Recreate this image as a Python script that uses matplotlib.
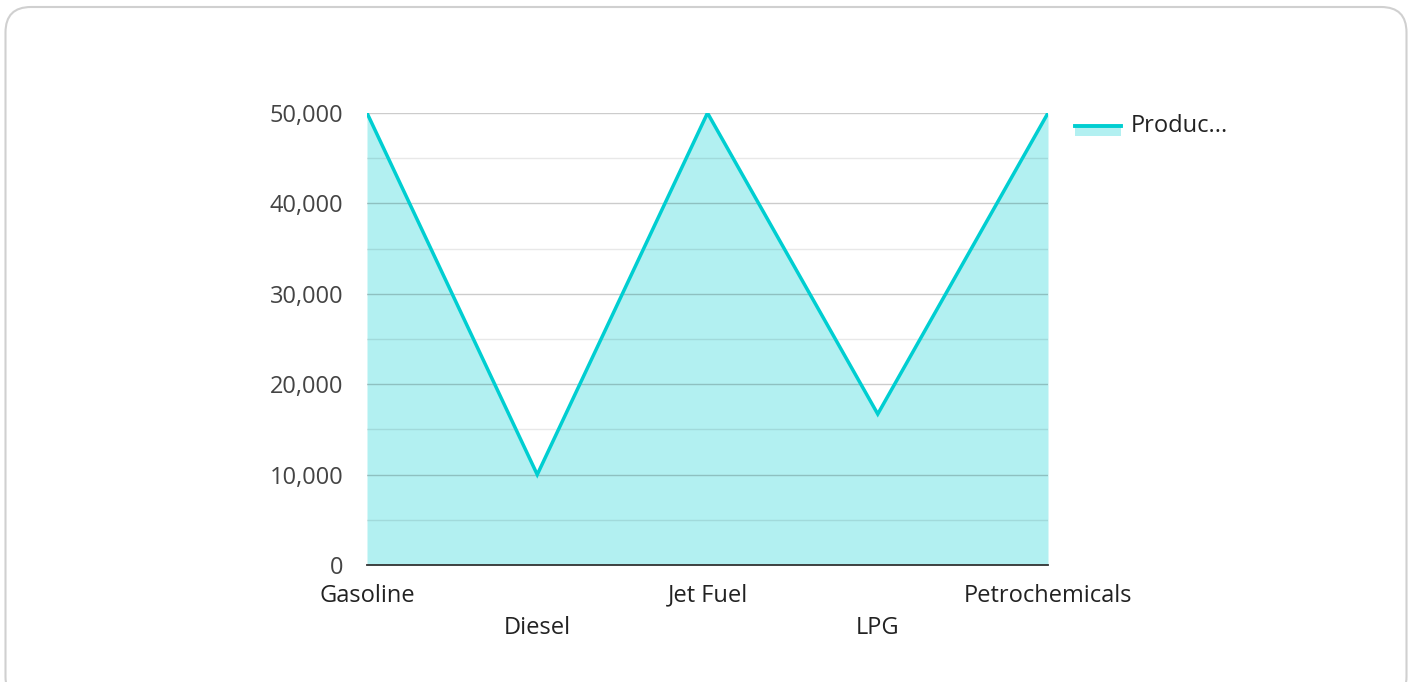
import matplotlib
matplotlib.use("Agg")
import matplotlib.pyplot as plt
from matplotlib.patches import FancyBboxPatch, Rectangle
from matplotlib.lines import Line2D
from matplotlib.ticker import FuncFormatter, MultipleLocator

categories = ["Gasoline", "Diesel", "Jet Fuel", "LPG", "Petrochemicals"]
production = [50000, 10000, 50000, 16700, 50000]
series_name = "Produc..."

plt.rcParams['font.family'] = ['Open Sans', 'DejaVu Sans']

W, H = 1412, 682
fig = plt.figure(figsize=(W / 100, H / 100), dpi=100)

# outer rounded frame
frame = FancyBboxPatch((5.5 / W, -20 / H), (W - 11) / W, (H - 7 + 20) / H,
                       boxstyle="round,pad=0,rounding_size=0.018",
                       transform=fig.transFigure, facecolor='none',
                       edgecolor='#d0d0d0', linewidth=1.5, zorder=-1,
                       mutation_aspect=W / H)
fig.patches.append(frame)

ax = fig.add_axes([367 / W, 1 - 565 / H, (1048 - 367) / W, (565 - 113) / H])
ax.set_facecolor('none')

x = list(range(len(categories)))
line_color = '#00CED1'
ax.fill_between(x, production, 0, color=line_color, alpha=0.3, linewidth=0, zorder=1)
ax.plot(x, production, color=line_color, linewidth=2.5, zorder=3, solid_joinstyle='miter')

ax.set_xlim(0, len(categories) - 1)
ax.set_ylim(0, 50000)
ax.yaxis.set_major_locator(MultipleLocator(10000))
ax.yaxis.set_minor_locator(MultipleLocator(5000))
ax.yaxis.set_major_formatter(FuncFormatter(lambda v, p: f"{int(v):,}"))
ax.grid(which='major', axis='y', color='black', alpha=0.2, linewidth=1.0, zorder=2)
ax.grid(which='minor', axis='y', color='black', alpha=0.09, linewidth=1.0, zorder=2)
ax.set_axisbelow(False)

for s in ['left', 'right', 'top']:
    ax.spines[s].set_visible(False)
ax.spines['bottom'].set_color('#333333')
ax.spines['bottom'].set_linewidth(1.3)
ax.spines['bottom'].set_zorder(4)

ax.tick_params(axis='y', which='both', length=0, pad=17, labelsize=17, labelcolor='#444444')
ax.tick_params(axis='x', which='both', length=0, labelsize=17, labelcolor='#222222')
ax.set_xticks(x)
ax.set_xticklabels([])
for i, c in enumerate(categories):
    off = 0 if i % 2 == 0 else 23
    ax.annotate(c, xy=(i, 0), xycoords=('data', 'axes fraction'),
                xytext=(0, -22 - off), textcoords='offset points',
                ha='center', va='center', fontsize=17, color='#222222')

# legend
lx0, lx1, ly = 1075, 1121, 126
fig.patches.append(Rectangle((lx0 / W, 1 - 136 / H), (lx1 - lx0) / W, 10 / H,
                             transform=fig.transFigure, facecolor=line_color,
                             alpha=0.3, linewidth=0))
fig.lines.append(Line2D([lx0 / W, lx1 / W], [1 - ly / H, 1 - ly / H],
                        transform=fig.transFigure, color=line_color, linewidth=2.8))
fig.text(1131 / W, 1 - 126 / H, series_name, ha='left', va='center',
         fontsize=17, color='#222222')

fig.savefig("out.png", dpi=100)
